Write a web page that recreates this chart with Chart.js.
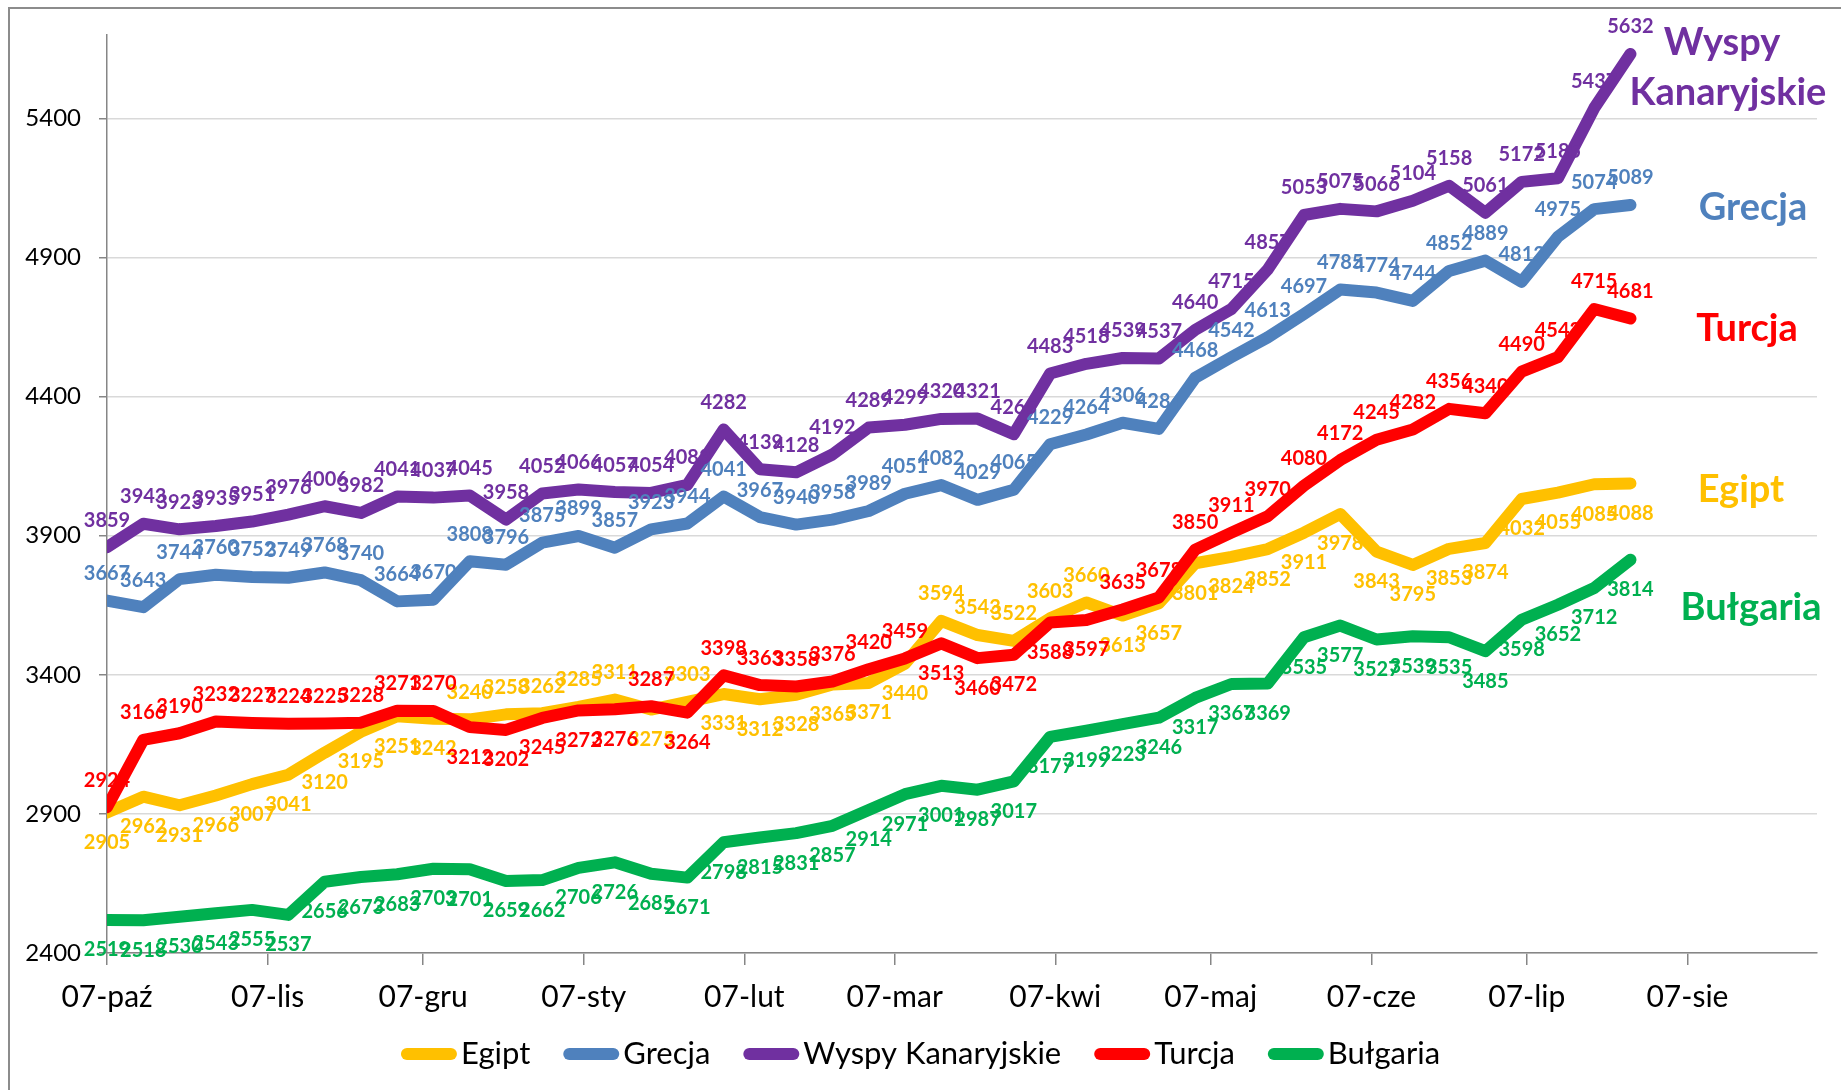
<!DOCTYPE html>
<html>
<head>
<meta charset="utf-8">
<script src="https://cdn.jsdelivr.net/npm/chart.js@4.4.1/dist/chart.umd.min.js"></script>
<style>
  html, body { margin: 0; padding: 0; background: #fff; }
  #frame { position: absolute; left: 8px; top: 7px; width: 1833px; height: 1083px;
           border-left: 2px solid #8c8c8c; border-top: 2px solid #8c8c8c; box-sizing: border-box; }
  #chart { position: absolute; left: 0; top: 0; }
</style>
</head>
<body>
<div id="frame"></div>
<canvas id="chart" width="1841" height="1090"></canvas>
<script>
// weekly measurement dates
const weeks = [
  '2007-10-07', '2007-10-14', '2007-10-21', '2007-10-28',
  '2007-11-04', '2007-11-11', '2007-11-18', '2007-11-25',
  '2007-12-02', '2007-12-09', '2007-12-16', '2007-12-23', '2007-12-30',
  '2008-01-06', '2008-01-13', '2008-01-20', '2008-01-27',
  '2008-02-03', '2008-02-10', '2008-02-17', '2008-02-24',
  '2008-03-02', '2008-03-09', '2008-03-16', '2008-03-23', '2008-03-30',
  '2008-04-06', '2008-04-13', '2008-04-20', '2008-04-27',
  '2008-05-04', '2008-05-11', '2008-05-18', '2008-05-25',
  '2008-06-01', '2008-06-08', '2008-06-15', '2008-06-22', '2008-06-29',
  '2008-07-06', '2008-07-13', '2008-07-20', '2008-07-27'
];

const egipt = [2905, 2962, 2931, 2966, 3007, 3041, 3120, 3195, 3251, 3242, 3240, 3258, 3262, 3285, 3311,
  3275, 3303, 3331, 3312, 3328, 3365, 3371, 3440, 3594, 3543, 3522, 3603, 3660, 3613, 3657, 3801,
  3824, 3852, 3911, 3978, 3843, 3795, 3853, 3874, 4032, 4055, 4085, 4088];

const grecja = [3667, 3643, 3744, 3760, 3752, 3749, 3768, 3740, 3664, 3670, 3808, 3796, 3875, 3899, 3857,
  3923, 3944, 4041, 3967, 3940, 3958, 3989, 4051, 4082, 4029, 4065, 4229, 4264, 4306, 4284, 4468,
  4542, 4613, 4697, 4785, 4774, 4744, 4852, 4889, 4813, 4975, 5074, 5089];

const wyspy = [3859, 3943, 3923, 3935, 3951, 3976, 4006, 3982, 4041, 4037, 4045, 3958, 4052, 4066, 4057,
  4054, 4083, 4282, 4139, 4128, 4192, 4289, 4299, 4320, 4321, 4265, 4483, 4518, 4539, 4537, 4640,
  4715, 4857, 5053, 5075, 5066, 5104, 5158, 5061, 5172, 5185, 5437, 5632];

const turcja = [2924, 3166, 3190, 3232, 3227, 3224, 3225, 3228, 3271, 3270, 3212, 3202, 3245, 3272, 3276,
  3287, 3264, 3398, 3363, 3358, 3376, 3420, 3459, 3513, 3460, 3472, 3588, 3597, 3635, 3678, 3850,
  3911, 3970, 4080, 4172, 4245, 4282, 4356, 4340, 4490, 4542, 4715, 4681];

const bulgaria = [2519, 2518, 2530, 2543, 2555, 2537, 2656, 2673, 2683, 2703, 2701, 2659, 2662, 2706, 2726,
  2685, 2671, 2798, 2815, 2831, 2857, 2914, 2971, 3001, 2987, 3017, 3177, 3199, 3223, 3246, 3317,
  3367, 3369, 3535, 3577, 3527, 3539, 3535, 3485, 3598, 3652, 3712, 3814];

// x axis: ticks on the 7th of every month
const monthTicks = ['2007-10-07', '2007-11-07', '2007-12-07', '2008-01-07', '2008-02-07', '2008-03-07',
  '2008-04-07', '2008-05-07', '2008-06-07', '2008-07-07', '2008-08-07'];
const monthLabels = ['07-paź', '07-lis', '07-gru', '07-sty', '07-lut', '07-mar',
  '07-kwi', '07-maj', '07-cze', '07-lip', '07-sie'];
const axisEnd = '2008-09-01';

const yTicks = [2400, 2900, 3400, 3900, 4400, 4900, 5400];

const seriesNames = ['Egipt', 'Grecja', 'Wyspy Kanaryjskie', 'Turcja', 'Bułgaria'];
const seriesColors = ['#FFC000', '#4F81BD', '#7030A0', '#FF0000', '#00B050'];

const FONT = 'Lato, "Open Sans", sans-serif';
const start = Date.parse(weeks[0] + 'T00:00:00Z');
function dayOf(s) {
  return Math.round((Date.parse(s + 'T00:00:00Z') - start) / 86400000);
}

const allSeries = [egipt, grecja, wyspy, turcja, bulgaria];
const datasets = allSeries.map((vals, i) => ({
  label: seriesNames[i],
  data: vals.map((v, j) => ({ x: dayOf(weeks[j]), y: v })),
  borderColor: seriesColors[i],
  backgroundColor: seriesColors[i],
  borderWidth: 12,
  borderCapStyle: 'round',
  borderJoinStyle: 'round',
  pointRadius: 0,
  tension: 0,
  order: allSeries.length - i   // later series drawn on top, like the original
}));

// which side of the line each value label goes
function labelSide(si, j) {
  if (si === 0) return egipt[j] <= turcja[j] ? 1 : -1;
  if (si === 3) return turcja[j] >= egipt[j] ? -1 : 1;
  if (si === 4) return 1;
  return -1;
}

const valueLabels = {
  id: 'valueLabels',
  afterDatasetsDraw(chart) {
    const ctx = chart.ctx;
    ctx.save();
    ctx.font = 'bold 20px ' + FONT;
    ctx.textAlign = 'center';
    ctx.textBaseline = 'middle';
    chart.data.datasets.forEach((ds, si) => {
      const meta = chart.getDatasetMeta(si);
      ctx.fillStyle = seriesColors[si];
      meta.data.forEach((pt, j) => {
        const off = labelSide(si, j) < 0 ? -27 : 30;
        ctx.fillText(String(allSeries[si][j]), pt.x, pt.y + off);
      });
    });
    ctx.restore();
  }
};

// big series names on the right
const seriesTitles = {
  id: 'seriesTitles',
  afterDraw(chart) {
    const ctx = chart.ctx;
    const items = [
      ['Wyspy', 2, 1722, 55],
      ['Kanaryjskie', 2, 1728, 105],
      ['Grecja', 1, 1753, 220],
      ['Turcja', 3, 1747, 341],
      ['Egipt', 0, 1741, 502],
      ['Bułgaria', 4, 1751, 620]
    ];
    ctx.save();
    ctx.font = 'bold 38px ' + FONT;
    ctx.textAlign = 'center';
    ctx.textBaseline = 'alphabetic';
    items.forEach(([t, ci, x, y]) => {
      ctx.fillStyle = seriesColors[ci];
      ctx.fillText(t, x, y);
    });
    ctx.restore();
  }
};

// legend drawn by hand so the symbol sits close to its text
const legendRow = {
  id: 'legendRow',
  afterDraw(chart) {
    const ctx = chart.ctx;
    const sym = 56, gap = 4, itemGap = 33;
    ctx.save();
    ctx.font = '31px ' + FONT;
    const widths = seriesNames.map(n => sym + gap + ctx.measureText(n).width);
    const total = widths.reduce((a, b) => a + b, 0) + itemGap * (widths.length - 1);
    let x = chart.width / 2 - total / 2;
    const y = chart.height - 36;
    ctx.textBaseline = 'middle';
    ctx.textAlign = 'left';
    seriesNames.forEach((n, i) => {
      ctx.strokeStyle = seriesColors[i];
      ctx.lineWidth = 12;
      ctx.lineCap = 'round';
      ctx.beginPath();
      ctx.moveTo(x + 6, y);
      ctx.lineTo(x + sym - 6, y);
      ctx.stroke();
      ctx.fillStyle = '#000';
      ctx.fillText(n, x + sym + gap, y);
      x += widths[i] + itemGap;
    });
    ctx.restore();
  }
};

new Chart(document.getElementById('chart'), {
  type: 'line',
  data: { datasets: datasets },
  options: {
    responsive: false,
    animation: false,
    devicePixelRatio: 1,
    layout: { padding: { left: 7, right: 24, top: 35, bottom: 69 } },
    plugins: {
      tooltip: { enabled: false },
      title: { display: false },
      legend: { display: false }
    },
    scales: {
      x: {
        type: 'linear',
        min: 0,
        max: dayOf(axisEnd),
        afterBuildTicks: s => { s.ticks = monthTicks.map(d => ({ value: dayOf(d) })); },
        afterFit: s => { s.height = 68; },
        ticks: {
          callback: (v, i) => monthLabels[i],
          autoSkip: false,
          maxRotation: 0,
          padding: 14,
          color: '#000',
          font: { family: FONT, size: 30 }
        },
        grid: { drawOnChartArea: false, tickLength: 12, color: '#868686', lineWidth: 1.5 },
        border: { color: '#868686', width: 1.5 }
      },
      y: {
        min: 2400,
        max: 5700,
        afterBuildTicks: s => { s.ticks = yTicks.map(v => ({ value: v })); },
        afterFit: s => { s.width = 100; },
        ticks: {
          callback: v => String(v),
          padding: 18,
          color: '#000',
          font: { family: FONT, size: 24 }
        },
        grid: { color: '#d9d9d9', tickColor: '#868686', tickLength: 8, lineWidth: 1.5 },
        border: { color: '#868686', width: 1.5 }
      }
    }
  },
  plugins: [valueLabels, seriesTitles, legendRow]
});
</script>
</body>
</html>
